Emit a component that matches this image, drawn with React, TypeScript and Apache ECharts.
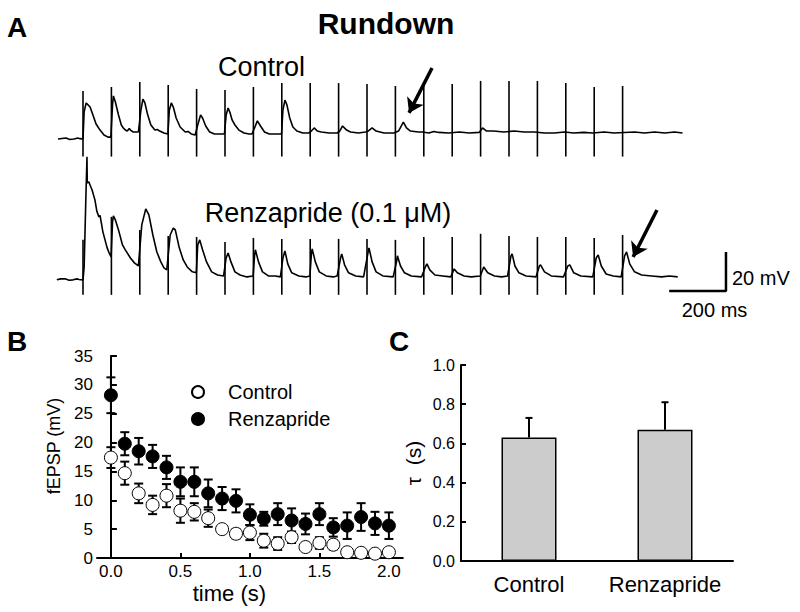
import React, { useEffect, useRef } from 'react';
import * as echarts from 'echarts';

const FONT = '"Liberation Sans", Arial, Helvetica, sans-serif';

// ---------- Panel A: traces (time in ms, voltage in mV relative to each trace's baseline) ----------
const STIM_TIMES = [0, 100, 200, 300, 400, 500, 600, 700, 800, 900, 1000, 1100, 1200, 1300, 1400, 1500, 1600, 1700, 1800, 1900];

const CONTROL_PRE = [[-88, -3.1], [-74, -2.8], [-60, -2.6], [-46, -3.3], [-32, -3.1], [-18, -2.6], [-11, -2.9], [0, -3.1]];
const CONTROL_PULSES = [
  [[4, 10.8], [11, 15.4], [18, 14.4], [25, 13.3], [35, 9.2], [46, 4.6], [60, 1.5], [74, -1.0], [88, -2.1], [98, -2.1]],
  [[4, 14.4], [7, 19.0], [14, 15.9], [25, 9.2], [35, 4.1], [42, 2.6], [49, 1.5], [56, 1.0], [63, 2.3], [67, 1.5], [77, 0.5], [95, 0.5]],
  [[4, 11.8], [11, 17.4], [18, 15.4], [28, 9.2], [39, 4.1], [53, 1.5], [62, 1.8], [70, 1.0], [85, 0], [99, -0.5]],
  [[4, 11.8], [11, 15.4], [18, 13.3], [28, 7.7], [42, 3.1], [60, 0.5], [70, 0.8], [81, -0.5], [95, -1.0]],
  [[4, 4.1], [14, 9.2], [21, 7.7], [32, 3.6], [46, 0.5], [63, -0.5], [81, -0.5], [98, -0.5]],
  [[4, 9.2], [11, 12.8], [18, 10.3], [25, 6.7], [35, 4.1], [49, 1.5], [67, 0], [85, -0.5], [95, -0.5]],
  [[4, 2.6], [14, 6.2], [25, 3.6], [39, 0.5], [56, -0.5], [81, -0.5], [99, -0.5]],
  [[4, 11.8], [11, 16.9], [18, 14.4], [28, 7.7], [39, 3.1], [53, 1.0], [74, 0], [95, 0]],
  [[4, 1.0], [14, 2.6], [25, 1.0], [39, 0.5], [67, 0], [95, 0]],
  [[4, 1.0], [14, 3.6], [28, 1.5], [42, 0.5], [70, 0], [95, 0.5]],
  [[4, 1.0], [18, 2.6], [32, 1.0], [60, 0], [95, 0]],
  [[11, 1.0], [28, 5.6], [39, 2.6], [53, 1.0], [81, 0.5], [95, 0.5]],
  [[18, 0], [35, 0.8], [53, 0.3], [88, 0]],
  [[25, 0.5], [60, 0], [95, 0.3]],
  [[7, 2.6], [21, 1.0], [46, 1.0], [81, 0.5]],
  [[18, 1.0], [53, 0.5], [88, 0.5]],
  [[25, 0], [60, 0], [95, 0.5]],
  [[28, 0], [63, 0.3], [95, 0]],
  [[35, 0.5], [70, 0]],
  [[42, 0.5], [77, 0], [113, 0.5], [148, 0], [183, 0.5], [211, 0]],
];
const CONTROL_ARTIFACT_TOP = [21.5, 23.6, 26.2, 24.6, 22.6, 22.1, 23.6, 25.6, 25.6, 25.6, 25.1, 24.1, 24.6, 25.1, 26.7, 26.7, 26.7, 25.6, 23.6, 24.1];
const CONTROL_ARTIFACT_BOTTOM = -12.1;

const RENZ_PRE = [[-92, -1.5], [-78, -1.0], [-63, -1.0], [-49, -1.7], [-35, -1.5], [-21, -1.0], [-14, -1.3], [0, -1.5]];
const RENZ_PULSES = [
  [[4, 5.0], [10, 40.0], [14, 61.6], [15, 48.2], [21, 48.7], [25, 47.0], [32, 44.6], [42, 39.5], [49, 33.5], [56, 30.8], [60, 31.5], [70, 23.1], [85, 14.9], [92, 12.3], [99, 10.3]],
  [[4, 28.2], [7, 31.3], [14, 29.2], [25, 24.1], [39, 16.4], [49, 13.9], [67, 9.7], [81, 7.2], [95, 5.6]],
  [[7, 26.7], [21, 34.9], [32, 31.8], [46, 21.5], [60, 12.8], [74, 7.7], [85, 4.6], [95, 3.6]],
  [[7, 21.5], [18, 25.1], [25, 24.1], [39, 14.9], [53, 8.7], [67, 5.1], [85, 2.6], [99, 2.1]],
  [[4, 16.4], [11, 19.0], [21, 13.9], [35, 7.7], [53, 2.6], [74, 1.0], [95, 0.5]],
  [[4, 9.7], [11, 12.3], [21, 7.7], [35, 2.6], [53, 1.0], [77, 0], [99, 0.5]],
  [[4, 10.8], [7, 13.9], [18, 7.7], [32, 2.6], [53, 0.5], [77, 0.5], [95, 0]],
  [[4, 9.7], [11, 13.3], [21, 6.7], [35, 2.1], [60, 0.5], [85, 0], [99, 0.5]],
  [[4, 11.3], [7, 14.4], [18, 7.7], [32, 2.6], [56, 0.5], [81, 0], [95, 0.5]],
  [[7, 9.7], [11, 11.8], [21, 6.2], [35, 2.1], [60, 0.5], [88, 0]],
  [[4, 12.8], [7, 14.9], [18, 7.7], [32, 2.6], [56, 0.5], [92, 0]],
  [[4, 7.7], [7, 10.8], [18, 5.6], [32, 2.1], [56, 0.5], [92, 0]],
  [[4, 4.6], [11, 6.7], [21, 3.6], [39, 1.0], [67, 0.5], [95, 0]],
  [[7, 4.1], [18, 2.1], [42, 0.5], [67, 0], [99, 0.5]],
  [[11, 5.1], [25, 2.1], [49, 0.5], [74, 0], [95, 0.5]],
  [[7, 10.8], [11, 11.8], [21, 5.6], [35, 2.1], [60, 0.5], [95, 0]],
  [[7, 5.6], [11, 6.2], [25, 2.6], [49, 0.5], [92, 0]],
  [[7, 5.6], [14, 6.2], [28, 2.1], [53, 0.5], [95, 0]],
  [[7, 9.7], [14, 11.3], [25, 5.6], [42, 1.5], [67, 0.5], [95, 0]],
  [[7, 10.8], [14, 12.8], [25, 6.7], [42, 2.6], [67, 1.0], [102, 0.5], [137, 0], [165, 0.5], [194, 0]],
];
const RENZ_ARTIFACT_TOP = [19.0, 30.8, 24.1, 21.0, 20.5, 17.9, 20.0, 19.5, 19.5, 19.5, 19.5, 19.0, 20.5, 20.5, 22.1, 21.0, 20.5, 20.5, 20.0, 21.5];
const RENZ_ARTIFACT_BOTTOM = -9.2;
const RENZ_DISPLAY_OFFSET = -73.8; // vertical offset of the lower trace (mV)

// scale bar: 200 ms x 20 mV
const SCALE_BAR = [[2064, -81], [2264, -81], [2264, -61]];
// arrows (tail -> head)
const ARROWS = [
  [[1229, 33.3], [1148, 10.3]],
  [[2021, -39.5], [1937, -63.6]],
];

// ---------- Panel B ----------
const TIME_S = [0.0, 0.1, 0.2, 0.3, 0.4, 0.5, 0.6, 0.7, 0.8, 0.9, 1.0, 1.1, 1.2, 1.3, 1.4, 1.5, 1.6, 1.7, 1.8, 1.9, 2.0];
const CONTROL_MEAN = [17.4, 14.7, 11.2, 9.2, 10.8, 8.2, 8.0, 6.9, 5.0, 4.2, 4.4, 3.0, 2.5, 3.6, 1.9, 2.6, 2.3, 1.0, 0.9, 0.75, 1.0];
const CONTROL_SEM = [1.8, 2.0, 1.7, 1.6, 2.0, 2.1, 1.5, 1.5, 0.6, 0.8, 1.3, 1.2, 1.1, 1.0, 0.6, 1.0, 0.8, 0.5, 0.5, 0.5, 0.6];
const RENZ_MEAN = [28.2, 19.8, 18.5, 17.6, 15.7, 13.2, 13.2, 11.2, 10.3, 9.9, 7.5, 6.8, 7.6, 6.5, 5.9, 7.6, 5.3, 5.6, 7.1, 6.0, 5.6];
const RENZ_SEM = [3.1, 2.0, 2.3, 2.0, 2.0, 2.5, 2.5, 2.4, 2.0, 2.0, 1.8, 1.2, 1.9, 2.1, 1.8, 1.9, 1.6, 2.3, 2.4, 2.0, 2.3];
const B_X_TICKS = [0, 0.5, 1.0, 1.5, 2.0];

// ---------- Panel C ----------
const C_CATEGORIES = ['Control', 'Renzapride'];
const TAU_MEAN = [0.63, 0.67];
const TAU_SEM = [0.10, 0.14];

function buildTrace(pre: number[][], pulses: number[][][], offset: number) {
  const out: number[][] = pre.map((p) => [p[0], p[1] + offset]);
  pulses.forEach((pts, k) => {
    pts.forEach((p) => out.push([STIM_TIMES[k] + p[0], p[1] + offset]));
  });
  return out;
}

const axisLineStyle = { color: '#000', width: 2 };

export default function App() {
  const ref = useRef<HTMLDivElement>(null);
  useEffect(() => {
    const chart = echarts.init(ref.current!, null, { renderer: 'svg' });

    const vline = (params: any, api: any) => {
      const x = api.value(0);
      const p1 = api.coord([x, api.value(1)]);
      const p2 = api.coord([x, api.value(2)]);
      return {
        type: 'line',
        shape: { x1: p1[0], y1: p1[1], x2: p2[0], y2: p2[1] },
        style: { stroke: '#000', lineWidth: 1.6 },
      };
    };
    const errBar = (cap: number, both: boolean) => (params: any, api: any) => {
      const x = api.value(0);
      const lo = api.coord([x, api.value(1)]);
      const hi = api.coord([x, api.value(2)]);
      const st = { stroke: '#000', lineWidth: 2 };
      const children: any[] = [
        { type: 'line', shape: { x1: lo[0], y1: lo[1], x2: hi[0], y2: hi[1] }, style: st },
        { type: 'line', shape: { x1: hi[0] - cap, y1: hi[1], x2: hi[0] + cap, y2: hi[1] }, style: st },
      ];
      if (both) children.push({ type: 'line', shape: { x1: lo[0] - cap, y1: lo[1], x2: lo[0] + cap, y2: lo[1] }, style: st });
      return { type: 'group', children };
    };

    const textEl = (text: string, x: number, y: number, size: number, bold = false, align = 'center') => ({
      type: 'text',
      x,
      y,
      style: {
        text,
        fontSize: size,
        fontWeight: bold ? 'bold' : 'normal',
        fontFamily: FONT,
        fill: '#000',
        align,
        verticalAlign: 'middle',
      },
    });

    const option: any = {
      animation: false,
      backgroundColor: '#fff',
      textStyle: { fontFamily: FONT },
      graphic: [
        textEl('A', 17, 27, 28, true),
        textEl('Rundown', 386, 23, 30, true),
        textEl('Control', 261.5, 67, 27),
        textEl('Renzapride (0.1 μM)', 328, 213, 27),
        textEl('20 mV', 732, 278, 20, false, 'left'),
        textEl('200 ms', 714.5, 310, 20),
        textEl('B', 17, 341, 28, true),
        textEl('C', 399, 341, 28, true),
      ],
      legend: {
        data: ['Control', 'Renzapride'],
        orient: 'vertical',
        left: 186,
        top: 377,
        itemWidth: 12,
        itemHeight: 12,
        itemGap: 7,
        selectedMode: false,
        textStyle: { fontSize: 20, color: '#000', fontFamily: FONT, padding: [0, 0, 0, 19] },
      },
      grid: [
        { left: 40.4, width: 738.4, top: 58.9, height: 241.8 },
        { left: 97, width: 305.8, top: 356, height: 202 },
        { left: 461, width: 272, top: 365, height: 196 },
      ],
      xAxis: [
        { gridIndex: 0, type: 'value', min: -150, max: 2450, show: false },
        {
          gridIndex: 1,
          type: 'value',
          min: -0.1,
          max: 2.1,
          axisLine: { show: true, lineStyle: axisLineStyle },
          axisTick: { show: true, inside: true, length: 5, lineStyle: axisLineStyle, customValues: B_X_TICKS },
          axisLabel: {
            customValues: B_X_TICKS,
            formatter: (v: number) => v.toFixed(1),
            color: '#000',
            fontSize: 17,
            fontFamily: FONT,
            margin: 5,
          },
          splitLine: { show: false },
          name: 'time (s)',
          nameLocation: 'middle',
          nameGap: 24,
          nameTextStyle: { fontSize: 22, color: '#000', fontFamily: FONT, padding: [0, 41, 0, 0] },
        },
        {
          gridIndex: 2,
          type: 'category',
          data: C_CATEGORIES,
          axisLine: { show: true, lineStyle: axisLineStyle },
          axisTick: { show: false },
          axisLabel: { color: '#000', fontSize: 22, fontFamily: FONT, margin: 12, interval: 0, hideOverlap: false },
        },
      ],
      yAxis: [
        { gridIndex: 0, type: 'value', min: -86, max: 38, show: false },
        {
          gridIndex: 1,
          type: 'value',
          min: 0,
          max: 35,
          interval: 5,
          axisLine: { show: true, lineStyle: axisLineStyle },
          axisTick: { show: true, inside: true, length: 6, lineStyle: axisLineStyle },
          axisLabel: { color: '#000', fontSize: 17, fontFamily: FONT, margin: 4 },
          splitLine: { show: false },
          name: 'fEPSP (mV)',
          nameLocation: 'middle',
          nameGap: 34,
          nameRotate: 90,
          nameTextStyle: { fontSize: 18, color: '#000', fontFamily: FONT, padding: [0, 0, 0, 22] },
        },
        {
          gridIndex: 2,
          type: 'value',
          min: 0,
          max: 1,
          interval: 0.2,
          axisLine: { show: true, lineStyle: axisLineStyle },
          axisTick: { show: true, inside: true, length: 5, lineStyle: axisLineStyle },
          axisLabel: { color: '#000', fontSize: 16, fontFamily: FONT, margin: 6, formatter: (v: number) => v.toFixed(1) },
          splitLine: { show: false },
          name: 'τ  (s)',
          nameLocation: 'middle',
          nameGap: 37,
          nameRotate: 90,
          nameTextStyle: { fontSize: 21, color: '#000', fontFamily: FONT },
        },
      ],
      series: [
        {
          type: 'custom',
          name: 'ctrlStim',
          xAxisIndex: 0,
          yAxisIndex: 0,
          renderItem: vline,
          encode: { x: 0, y: [1, 2] },
          data: CONTROL_ARTIFACT_TOP.map((top, k) => [STIM_TIMES[k], CONTROL_ARTIFACT_BOTTOM, top]),
        },
        {
          type: 'custom',
          name: 'renzStim',
          xAxisIndex: 0,
          yAxisIndex: 0,
          renderItem: vline,
          encode: { x: 0, y: [1, 2] },
          data: RENZ_ARTIFACT_TOP.map((top, k) => [STIM_TIMES[k], RENZ_ARTIFACT_BOTTOM + RENZ_DISPLAY_OFFSET, top + RENZ_DISPLAY_OFFSET]),
        },
        {
          type: 'line',
          name: 'ctrlTrace',
          xAxisIndex: 0,
          yAxisIndex: 0,
          symbol: 'none',
          lineStyle: { color: '#000', width: 1.6 },
          data: buildTrace(CONTROL_PRE, CONTROL_PULSES, 0),
        },
        {
          type: 'line',
          name: 'renzTrace',
          xAxisIndex: 0,
          yAxisIndex: 0,
          symbol: 'none',
          lineStyle: { color: '#000', width: 1.6 },
          data: buildTrace(RENZ_PRE, RENZ_PULSES, RENZ_DISPLAY_OFFSET),
        },
        {
          type: 'line',
          name: 'scaleBar',
          xAxisIndex: 0,
          yAxisIndex: 0,
          symbol: 'none',
          lineStyle: { color: '#000', width: 2.5 },
          data: SCALE_BAR,
        },
        {
          type: 'lines',
          name: 'arrows',
          coordinateSystem: 'cartesian2d',
          xAxisIndex: 0,
          yAxisIndex: 0,
          symbol: ['none', 'arrow'],
          symbolSize: 14,
          lineStyle: { color: '#000', width: 3.5, opacity: 1, curveness: 0 },
          data: ARROWS.map((c) => ({ coords: c })),
        },
        {
          type: 'custom',
          name: 'ctrlErr',
          xAxisIndex: 1,
          yAxisIndex: 1,
          renderItem: errBar(4.5, true),
          encode: { x: 0, y: [1, 2] },
          data: TIME_S.map((t, i) => [t, CONTROL_MEAN[i] - CONTROL_SEM[i], CONTROL_MEAN[i] + CONTROL_SEM[i]]),
          z: 1,
        },
        {
          type: 'custom',
          name: 'renzErr',
          xAxisIndex: 1,
          yAxisIndex: 1,
          renderItem: errBar(4.5, true),
          encode: { x: 0, y: [1, 2] },
          data: TIME_S.map((t, i) => [t, RENZ_MEAN[i] - RENZ_SEM[i], RENZ_MEAN[i] + RENZ_SEM[i]]),
          z: 1,
        },
        {
          type: 'scatter',
          name: 'Renzapride',
          xAxisIndex: 1,
          yAxisIndex: 1,
          symbol: 'circle',
          symbolSize: 13,
          itemStyle: { color: '#000', borderColor: '#000', borderWidth: 1, opacity: 1 },
          data: TIME_S.map((t, i) => [t, RENZ_MEAN[i]]),
          z: 3,
        },
        {
          type: 'scatter',
          name: 'Control',
          xAxisIndex: 1,
          yAxisIndex: 1,
          symbol: 'circle',
          symbolSize: 13,
          itemStyle: { color: '#fff', borderColor: '#000', borderWidth: 1, opacity: 1 },
          data: TIME_S.map((t, i) => [t, CONTROL_MEAN[i]]),
          z: 4,
        },
        {
          type: 'bar',
          name: 'tau',
          xAxisIndex: 2,
          yAxisIndex: 2,
          barWidth: 55,
          itemStyle: { color: '#cccccc', borderColor: '#000', borderWidth: 1.5 },
          data: TAU_MEAN,
          z: 3,
        },
        {
          type: 'custom',
          name: 'tauErr',
          xAxisIndex: 2,
          yAxisIndex: 2,
          renderItem: errBar(3.5, false),
          encode: { x: 0, y: [1, 2] },
          data: TAU_MEAN.map((m, i) => [i, m, m + TAU_SEM[i]]),
          z: 2,
        },
      ],
    };

    chart.setOption(option);
    return () => chart.dispose();
  }, []);
  return (
    <div
      ref={ref}
      style={{ position: 'fixed', left: 0, top: 0, width: 800, height: 612, background: '#fff' }}
    />
  );
}
